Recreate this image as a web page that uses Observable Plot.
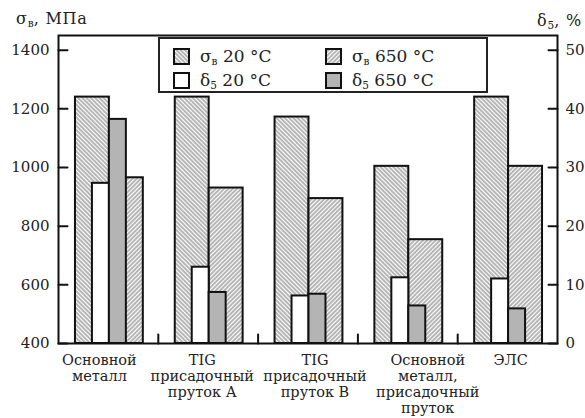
<!DOCTYPE html>
<html><head><meta charset="utf-8">
<script src="https://cdn.jsdelivr.net/npm/d3@7"></script>
<script src="https://cdn.jsdelivr.net/npm/@observablehq/plot@0.6"></script>
<style>
body{margin:0;background:#fff;}
#wrap{position:relative;width:585px;height:418px;font-family:"DejaVu Serif",serif;color:#222;overflow:hidden;background:#fff}
.t{position:absolute;font-size:16px;line-height:17px;white-space:nowrap;letter-spacing:0.8px}
sub{font-size:10.5px;line-height:0;vertical-align:baseline;position:relative;top:3px;letter-spacing:0}
#legend{position:absolute;left:158px;top:37px;width:326px;height:52px;border:2px solid #222;background:#fff}
.item{position:absolute;font-size:17px;line-height:17px;display:flex;align-items:center;white-space:nowrap}
.item svg{margin-right:10px;display:block}
</style></head>
<body>
<div id="wrap">
  <div id="chart"></div>
  <div class="t" style="left:16px;top:10px">σ<sub>в</sub>, МПа</div>
  <div class="t" style="right:3px;top:12px">δ<sub>5</sub>, %</div>
  <div id="legend"></div>
</div>
<script>
// ---- data ----
const categories = [
  "Основной\nметалл",
  "TIG\nприсадочный\nпруток А",
  "TIG\nприсадочный\nпруток В",
  "Основной\nметалл,\nприсадочный\nпруток",
  "ЭЛС"
];
const sigma20  = [1240, 1240, 1172, 1004, 1240];  // σв 20 °C, МПа
const sigma650 = [965, 930, 894, 754, 1004];      // σв 650 °C, МПа
const delta20  = [27.3, 13.0, 8.1, 11.2, 11.0];   // δ5 20 °C, %
const delta650 = [38.2, 8.7, 8.4, 6.4, 5.9];      // δ5 650 °C, %
const leftTicks = [400, 600, 800, 1000, 1200, 1400];
const rightTicks = [0, 10, 20, 30, 40, 50];
const legendLabels = ["σ<sub>в</sub> 20 °C", "σ<sub>в</sub> 650 °C", "δ<sub>5</sub> 20 °C", "δ<sub>5</sub> 650 °C"];

// ---- helpers / styling ----
const idx = d3.range(categories.length);
const toLeft = v => 400 + v * 20;        // right axis (0..50 %) onto left axis (400..1400 МПа)
const tickUp = {draw(ctx, l) { ctx.moveTo(0, 0); ctx.lineTo(0, -l); }};
const ink = "#111";
const font = "'DejaVu Serif', serif";
const labelNudge = [-0.09, -0.06, 0.07, 0.2, 0.03];   // horizontal label placement, in group widths

const plot = Plot.plot({
  width: 585, height: 418,
  marginLeft: 58, marginRight: 28, marginTop: 35, marginBottom: 75,
  x: {domain: [0, categories.length], axis: null},
  y: {domain: [400, 1450], axis: null},
  style: {fontFamily: font, fontSize: "15px", color: "#222", background: "#fff"},
  marks: [
    Plot.rect(idx, {x1: i => i + 0.17, x2: i => i + 0.51, y1: 400, y2: i => sigma20[i], fill: "url(#h20)", stroke: ink, strokeWidth: 2}),
    Plot.rect(idx, {x1: i => i + 0.51, x2: i => i + 0.85, y1: 400, y2: i => sigma650[i], fill: "url(#h650)", stroke: ink, strokeWidth: 2}),
    Plot.rect(idx, {x1: i => i + 0.34, x2: i => i + 0.51, y1: 400, y2: i => toLeft(delta20[i]), fill: "#fff", stroke: ink, strokeWidth: 2}),
    Plot.rect(idx, {x1: i => i + 0.51, x2: i => i + 0.68, y1: 400, y2: i => toLeft(delta650[i]), fill: "#b4b4b4", stroke: ink, strokeWidth: 2}),
    Plot.frame({stroke: ink, strokeWidth: 2}),
    Plot.axisY({anchor: "left", ticks: leftTicks, tickSize: 0, tickPadding: 9, fontSize: 15, label: null, tickFormat: d => String(d)}),
    Plot.axisY({anchor: "right", ticks: rightTicks.map(toLeft), tickSize: 0, tickPadding: 8, fontSize: 15, label: null,
      tickFormat: d => String(rightTicks[rightTicks.map(toLeft).indexOf(d)])}),
    Plot.vector(leftTicks, {y: d => d, frameAnchor: "left", rotate: 90, length: 9, anchor: "start", shape: tickUp, stroke: ink, strokeWidth: 2}),
    Plot.vector(rightTicks.map(toLeft), {y: d => d, frameAnchor: "right", rotate: -90, length: 9, anchor: "start", shape: tickUp, stroke: ink, strokeWidth: 2}),
    Plot.vector(d3.range(1, categories.length), {x: d => d, frameAnchor: "bottom", rotate: 0, length: 9, anchor: "start", shape: tickUp, stroke: ink, strokeWidth: 2}),
    Plot.text(idx, {x: i => i + 0.5 + labelNudge[i], text: i => categories[i], frameAnchor: "bottom", lineAnchor: "top", dy: 10, fontSize: 14.5, lineHeight: 1.1, fill: "#222"})
  ]
});

// hatch patterns
const defs = d3.select(plot).insert("defs", ":first-child");
function hatch(id, angle) {
  const p = defs.append("pattern").attr("id", id).attr("patternUnits", "userSpaceOnUse")
    .attr("width", 3).attr("height", 3).attr("patternTransform", `rotate(${angle})`);
  p.append("rect").attr("width", 3).attr("height", 3).attr("fill", "#fff");
  p.append("line").attr("x1", 1).attr("y1", 0).attr("x2", 1).attr("y2", 3).attr("stroke", "#7a7a7a").attr("stroke-width", 1.1);
}
hatch("h20", -45);
hatch("h650", 45);
document.getElementById("chart").appendChild(plot);

// legend
const fills = ["url(#h20)", "url(#h650)", "#fff", "#b4b4b4"];
const pos = [[13, 9], [165, 9], [13, 33], [165, 33]];
const leg = d3.select("#legend");
legendLabels.forEach((lab, k) => {
  const it = leg.append("div").attr("class", "item").style("left", pos[k][0] + "px").style("top", pos[k][1] + "px");
  const s = it.append("svg").attr("width", 17).attr("height", 17);
  s.append("rect").attr("x", 1).attr("y", 1).attr("width", 15).attr("height", 15)
    .attr("fill", fills[k]).attr("stroke", ink).attr("stroke-width", 2);
  it.append("span").html(lab);
});
</script>
</body></html>
